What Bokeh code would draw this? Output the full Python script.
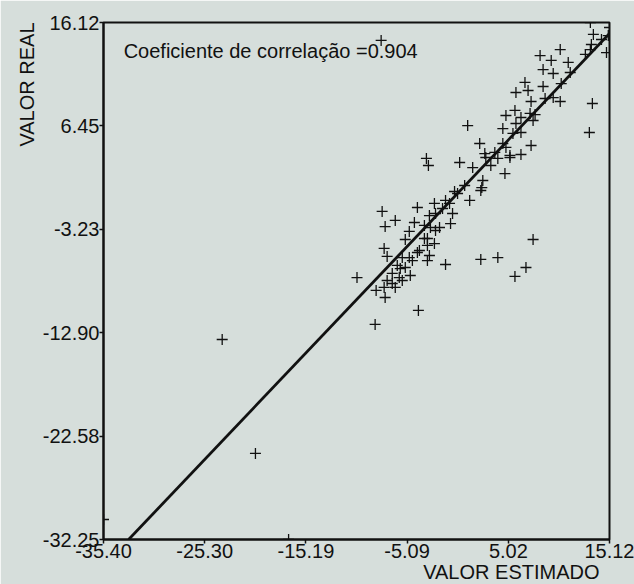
import math
from bokeh.plotting import figure
from bokeh.models import Range1d, FixedTicker, PrintfTickFormatter, Label, ColumnDataSource, Title
from bokeh.embed import file_html
from bokeh.resources import INLINE

# --- data ---
valor_estimado = [
    -23.55, -20.23, -35.40, -16.92, -7.68, 13.21, 15.12, 13.41, 13.11, 7.49,
    2.27, 3.97, 6.78, 5.68, 4.68, 1.16, 2.37, -3.16, -2.96, 0.16,
    1.46, 2.67, 6.28, 5.18, 2.47, -0.35, -1.25, -0.75, -7.58, -4.06,
    -2.36, -6.27, -7.28, -4.36, -4.87, -5.27, -2.86, -2.25, -2.76, -7.38,
    -7.08, -10.09, -3.06, -3.06, -1.25, -4.56, -4.06, -5.57, -5.77, -6.57,
    -7.08, -6.57, -7.38, -8.18, -7.28, -5.87, -5.27, -3.96, -8.28, -3.06,
    -2.86, -1.85, -2.36, -3.36, -3.86, -4.87, -4.77, -5.57, -6.27, -1.55,
    -0.55, -0.85, 0.96, 2.16, 3.67, 4.47, 4.47, 5.48, 2.27, -3.36,
    -2.25, 6.68, 5.78, 6.99, 8.49, 7.29, 8.69, 9.50, 10.30, 9.50,
    10.20, 5.68, 4.78, 6.28, 7.19, 7.49, 5.78, 6.28, 5.18, 7.29,
    2.77, 13.51, 14.32, 15.00, 13.31, 12.71, 13.21, 14.82, 8.19, 10.20,
    9.30, 8.49, 11.00, 11.20, 7.69, 4.78, -6.07, 3.27, 3.97, 0.66,
    -0.05,
]
valor_real = [
    -13.54, -24.20, -30.38, -32.25, 14.44, 16.12, 15.65, 8.54, 5.83, -4.18,
    -6.05, -5.87, -6.80, -7.64, 1.99, -0.53, 0.68, 3.40, 2.74, 3.02,
    2.55, 3.86, 3.77, 3.68, 1.34, 0.31, -0.53, -2.69, -1.56, -1.19,
    -0.81, -2.40, -2.97, -2.59, -3.43, -4.18, -1.94, -3.34, -3.06, -5.02,
    -5.77, -7.74, -4.74, -6.15, -6.52, -6.15, -5.40, -5.87, -6.90, -7.36,
    -8.02, -8.30, -8.67, -8.95, -9.61, -7.74, -6.80, -10.82, -12.13, -4.09,
    -5.68, -3.06, -4.56, -4.09, -5.21, -5.87, -7.55, -8.02, -8.67, -1.28,
    -1.75, -0.81, 6.48, 4.80, 3.96, 4.80, 6.20, 5.74, 0.40, -2.87,
    -1.75, 10.51, 9.57, 9.76, 10.13, 8.73, 9.01, 11.35, 10.41, 9.10,
    8.73, 7.89, 7.42, 7.23, 7.61, 6.95, 6.67, 5.83, 3.49, 4.61,
    3.49, 15.00, 14.53, 14.90, 14.06, 13.13, 13.59, 13.31, 13.03, 13.59,
    12.57, 11.72, 12.38, 11.44, 7.51, 4.43, -6.61, 2.74, 3.40, 0.87,
    0.12,
]

reta_x = [-32.89, 15.12]
reta_y = [-32.25, 15.09]

x_ticks = [-35.40, -25.30, -15.19, -5.09, 5.02, 15.12]
y_ticks = [-32.25, -22.58, -12.90, -3.23, 6.45, 16.12]

titulo_corr = "Coeficiente de correlação =0.904"
rotulo_x = "VALOR ESTIMADO"
rotulo_y = "VALOR REAL"

BG = "#d6dedb"
FONT = "Liberation Sans"
FS = "20px"
INK = "#111111"

p = figure(
    width=634, height=584, output_backend="svg", toolbar_location=None,
    x_range=Range1d(x_ticks[0], x_ticks[-1]), y_range=Range1d(y_ticks[0], y_ticks[-1]),
    min_border_left=103, min_border_right=25, min_border_top=22, min_border_bottom=45,
    background_fill_color=BG, border_fill_color=BG,
)
p.grid.visible = False
p.outline_line_color = INK
p.outline_line_width = 2

for ax, ticks in ((p.xaxis[0], x_ticks), (p.yaxis[0], y_ticks)):
    ax.ticker = FixedTicker(ticks=ticks)
    ax.formatter = PrintfTickFormatter(format="%.2f")
    ax.axis_line_color = INK
    ax.axis_line_width = 2
    ax.major_tick_line_color = INK
    ax.major_tick_line_width = 1.5
    ax.major_tick_out = 4
    ax.major_tick_in = 0
    ax.minor_tick_line_color = None
    ax.major_label_text_font = FONT
    ax.major_label_text_font_size = FS
    ax.major_label_text_color = INK
    ax.major_label_standoff = 0

p.add_layout(Title(text=rotulo_x, align="right", offset=10, standoff=-4, text_font=FONT,
                   text_font_size=FS, text_font_style="normal", text_color=INK), "below")
p.add_layout(Title(text=rotulo_y, align="right", offset=0, standoff=4, text_font=FONT,
                   text_font_size=FS, text_font_style="normal", text_color=INK), "left")

src = ColumnDataSource(dict(x=valor_estimado, y=valor_real))
p.line(reta_x, reta_y, line_color=INK, line_width=2.8)
p.scatter("x", "y", source=src, marker="cross", size=11, line_color=INK, line_width=1.3)

p.add_layout(Label(x=-33.39, y=13.5, text=titulo_corr, text_font=FONT, text_font_size=FS,
                   text_color=INK, text_baseline="middle", text_align="left"))

open("out.html", "w").write(file_html(p, INLINE))
